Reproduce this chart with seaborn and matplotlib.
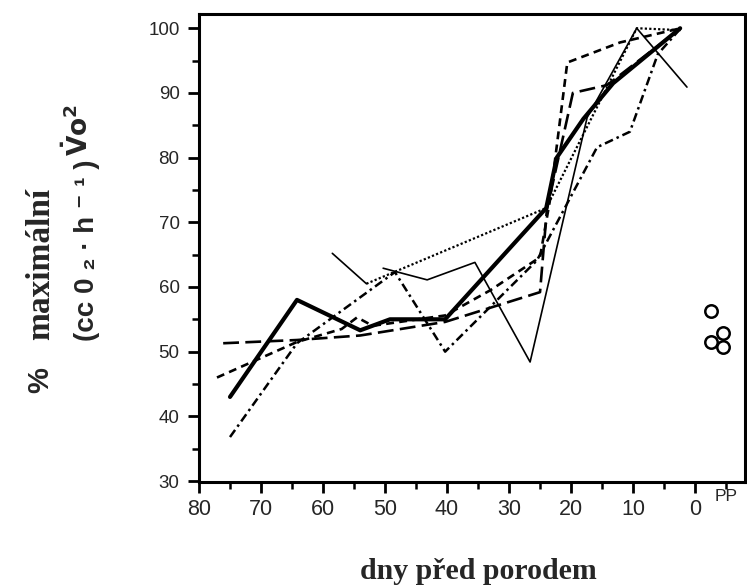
import numpy as np
import pandas as pd
import matplotlib
matplotlib.use("Agg")
import matplotlib.pyplot as plt
import matplotlib.transforms as mtransforms
from matplotlib.ticker import MultipleLocator
import seaborn as sns

# ---------------- data (days before birth, % of max VO2) ----------------
mean_x = [75, 64.2, 54, 49.2, 40.3, 24, 22.3, 18, 13.2, 2.4]
mean_y = [43, 58, 53.3, 55, 55, 72.2, 80, 86, 91.5, 100]

thin1_x = [58.5, 53]
thin1_y = [65.2, 60.5]

thin2_x = [50.3, 43.2, 35.5, 26.6, 17.4, 9.4, 1.3]
thin2_y = [62.9, 61.1, 63.8, 48.4, 86.2, 100, 90.9]

dotted_x = [53, 24, 9.4, 2.3]
dotted_y = [60.5, 72.2, 100, 99.7]

dashdot_x = [75, 64.2, 48.4, 40.3, 25.5, 15.8, 10.5, 6, 2.3]
dashdot_y = [36.8, 51.3, 62.3, 50, 64.1, 81.6, 84, 96, 100]

longdash_x = [76.1, 64.2, 54, 40.3, 25, 23.9, 19.7, 14.2, 2.3]
longdash_y = [51.3, 51.8, 52.5, 54.6, 59.2, 71.9, 90, 91.2, 100]

shortdash_x = [77.1, 64.2, 57, 54.5, 52, 40.3, 33, 25, 23.4, 20.6, 12.1, 2.3]
shortdash_y = [46, 51.5, 53.5, 55.3, 54, 55.6, 59.5, 64.6, 73.4, 94.7, 97.8, 100]

pp_x = [-2.6, -2.6, -4.5, -4.5]
pp_y = [56.3, 51.5, 52.9, 50.7]

xticks = [80, 70, 60, 50, 40, 30, 20, 10, 0]
xticklabels = ["80", "70", "60", "50", "40", "30", "20", "10", "0"]
yticks = [30, 40, 50, 60, 70, 80, 90, 100]
yticklabels = ["30", "40", "50", "60", "70", "80", "90", "100"]

# ---------------- style ----------------
sns.set_style("ticks")
plt.rcParams["font.family"] = ["Liberation Sans", "DejaVu Sans"]
plt.rcParams["mathtext.fontset"] = "dejavusans"

W, H = 747, 586
fig = plt.figure(figsize=(W / 100, H / 100), dpi=100)
L, R, T, B = 199, 745, 14, 482
ax = fig.add_axes([L / W, 1 - B / H, (R - L) / W, (B - T) / H])

series = [
    (shortdash_x, shortdash_y, 1.9, (0, (3.0, 2.0))),
    (longdash_x, longdash_y, 1.9, (0, (6.0, 2.4))),
    (dashdot_x, dashdot_y, 1.8, (0, (3.5, 1.6, 1.0, 1.6))),
    (dotted_x, dotted_y, 1.6, (0, (1.0, 1.0))),
    (thin1_x, thin1_y, 1.2, "-"),
    (thin2_x, thin2_y, 1.2, "-"),
    (mean_x, mean_y, 3.0, "-"),
]
for xs, ys, lw, ls in series:
    df = pd.DataFrame({"x": xs, "y": ys})
    sns.lineplot(data=df, x="x", y="y", ax=ax, color="black", linewidth=lw,
                 linestyle=ls, estimator=None, sort=False, legend=False)

pp = pd.DataFrame({"x": pp_x, "y": pp_y})
sns.scatterplot(data=pp, x="x", y="y", ax=ax, marker="o", s=80,
                facecolor="white", edgecolor="black", linewidth=1.8,
                zorder=5, legend=False)

ax.set_xlim(80, -8.06)
ax.set_ylim(29.85, 102.2)
ax.set_xticks(xticks)
ax.set_xticklabels(xticklabels, fontsize=15.5)
ax.set_yticks(yticks)
ax.set_yticklabels(yticklabels, fontsize=13.5)
ax.xaxis.set_minor_locator(MultipleLocator(5))
ax.yaxis.set_minor_locator(MultipleLocator(5))
ax.tick_params(which="major", direction="out", length=8, width=2, color="black")
ax.tick_params(which="minor", direction="out", length=5, width=1.8, color="black")
ax.tick_params(axis="x", which="major", pad=4)
ax.tick_params(axis="y", which="major", pad=6)
for sp in ax.spines.values():
    sp.set_visible(True)
    sp.set_linewidth(2.2)
    sp.set_color("black")
ax.set_xlabel("")
ax.set_ylabel("")

trans = mtransforms.blended_transform_factory(ax.transData, ax.transAxes)
ax.text(-5, -0.03, "PP", transform=trans, ha="center", va="center", fontsize=12.5)

def ftext(px, py, s, **kw):
    fig.text(px / W, 1 - py / H, s, rotation=90, rotation_mode="anchor",
             ha="center", va="baseline", **kw)

ftext(48, 380, "%", fontsize=21, fontweight="bold", family=["Liberation Sans", "DejaVu Sans"])
ftext(49, 264, "maximální", fontsize=24, fontweight="bold", family=["Liberation Serif", "DejaVu Serif"])
ftext(88, 130, r"$\mathbf{\dot{V}o^{2}}$", fontsize=19)
ftext(94, 250, "(cc 0 ₂ · h ⁻ ¹ )", fontsize=20, fontweight="bold",
      family=["Liberation Sans", "DejaVu Sans"])

fig.text(478 / W, 1 - 579 / H, "dny před porodem", ha="center", va="baseline",
         fontsize=21.5, fontweight="bold", family=["Liberation Serif", "DejaVu Serif"])

fig.savefig("out.png", dpi=100)
